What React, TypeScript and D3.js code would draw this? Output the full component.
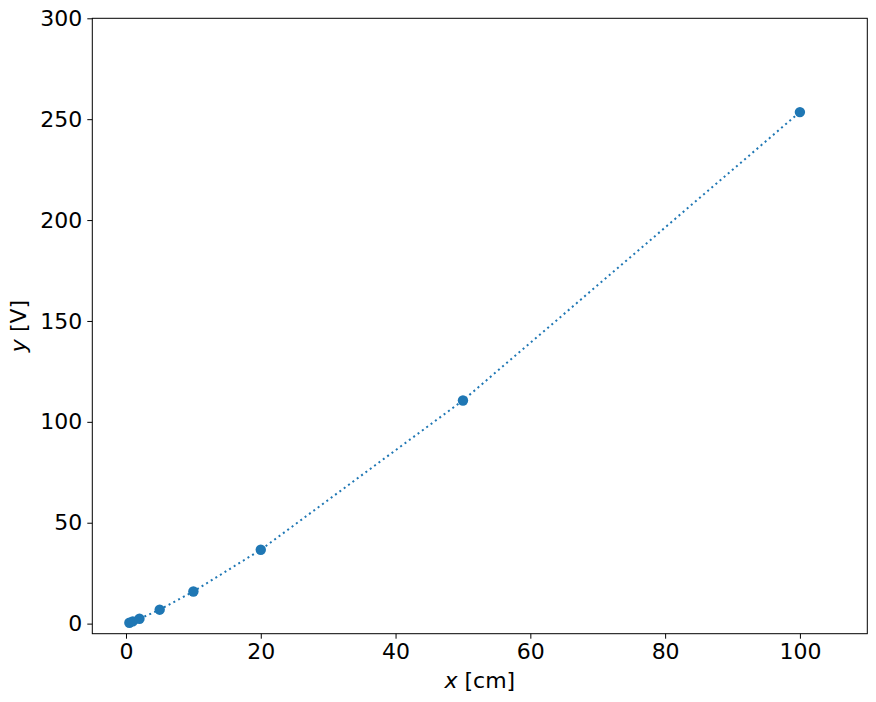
import { useEffect, useRef } from "react";
import * as d3 from "d3";

// distance [cm] and measured voltage [V]
const xValues = [0.5, 1, 2, 5, 10, 20, 50, 100];
const yValues = [0.45, 1.1, 2.4, 6.9, 15.9, 36.6, 110.6, 253.5];

const xTicks = [0, 20, 40, 60, 80, 100];
const yTicks = [0, 50, 100, 150, 200, 250, 300];

const BLUE = "#1f77b4";

export default function App() {
  const ref = useRef<SVGSVGElement>(null);

  useEffect(() => {
    document.body.style.margin = "0";
    if (!ref.current) return;
    const svg = d3.select(ref.current);
    svg.selectAll("*").remove();

    const W = 876, H = 702;
    const m = { top: 18.3, right: 8.7, bottom: 68.3, left: 92.3 };
    const iW = W - m.left - m.right;
    const iH = H - m.top - m.bottom;

    const x = d3.scaleLinear().domain([-5, 110]).range([0, iW]);
    const y = d3.scaleLinear().domain([-5, 300]).range([iH, 0]);

    const g = svg.append("g").attr("transform", `translate(${m.left},${m.top})`);
    const font = "'DejaVu Sans', sans-serif";

    const pts = xValues.map((v, i) => [v, yValues[i]] as [number, number]);

    // dotted connecting line
    g.append("path")
      .datum(pts)
      .attr("fill", "none")
      .attr("stroke", BLUE)
      .attr("stroke-width", 2)
      .attr("stroke-dasharray", "2,3.4")
      .attr("d", d3.line().x(d => x(d[0])).y(d => y(d[1])));

    g.selectAll("circle.pt")
      .data(pts)
      .enter().append("circle")
      .attr("class", "pt")
      .attr("cx", d => x(d[0]))
      .attr("cy", d => y(d[1]))
      .attr("r", 5.2)
      .attr("fill", BLUE);

    // axes
    const xa = g.append("g")
      .attr("transform", `translate(0,${iH})`)
      .call(d3.axisBottom(x).tickValues(xTicks).tickSize(5).tickPadding(5).tickFormat(d3.format("d")));
    const ya = g.append("g")
      .call(d3.axisLeft(y).tickValues(yTicks).tickSize(5).tickPadding(5).tickFormat(d3.format("d")));

    [xa, ya].forEach(a => {
      a.select(".domain").remove();
      a.selectAll(".tick line").attr("stroke", "#000").attr("stroke-width", 1);
      a.selectAll(".tick text")
        .attr("fill", "#000")
        .attr("font-size", "22px")
        .attr("font-family", font);
    });

    // frame
    g.append("rect")
      .attr("x", 0).attr("y", 0)
      .attr("width", iW).attr("height", iH)
      .attr("fill", "none")
      .attr("stroke", "#000")
      .attr("stroke-width", 1);

    // axis labels
    const xl = svg.append("text")
      .attr("x", m.left + iW / 2)
      .attr("y", 688)
      .attr("text-anchor", "middle")
      .attr("font-size", "22px")
      .attr("font-family", font);
    xl.append("tspan").attr("font-style", "italic").text("x");
    xl.append("tspan").text(" [cm]");

    const yl = svg.append("text")
      .attr("transform", `translate(26,${m.top + iH / 2}) rotate(-90)`)
      .attr("text-anchor", "middle")
      .attr("font-size", "22px")
      .attr("font-family", font);
    yl.append("tspan").attr("font-style", "italic").text("y");
    yl.append("tspan").text(" [V]");
  }, []);

  return <svg ref={ref} width={876} height={702} style={{ display: "block" }} />;
}
